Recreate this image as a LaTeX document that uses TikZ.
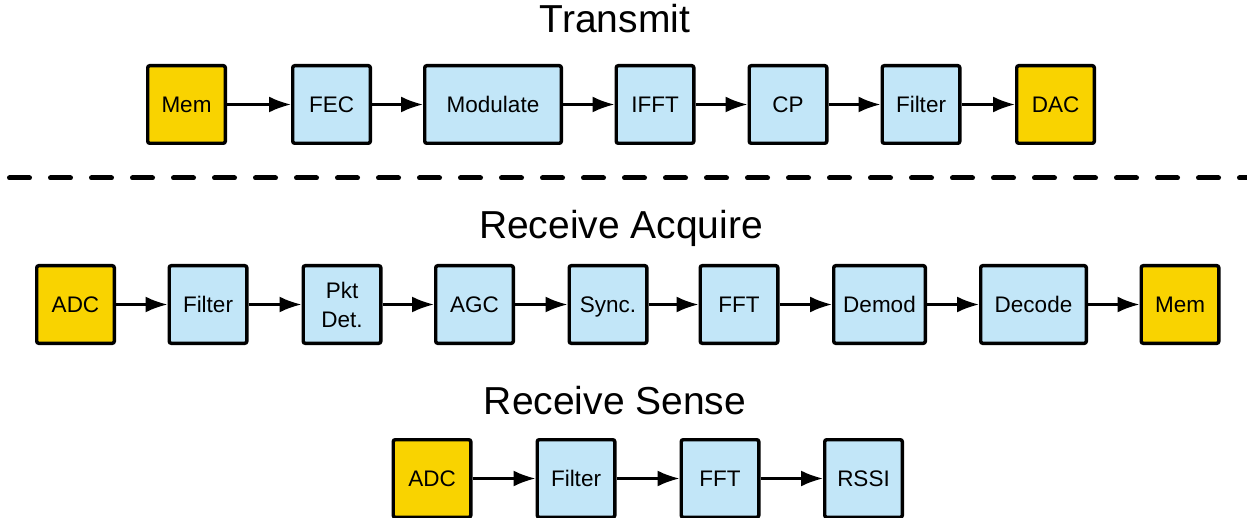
\documentclass[tikz,border=0pt]{standalone}
\usepackage{fontspec}
\setmainfont{Liberation Sans}
\usetikzlibrary{arrows.meta}
\definecolor{memyellow}{RGB}{249,211,0}
\definecolor{dspblue}{RGB}{194,230,248}
\tikzset{
  blk/.style={draw, line width=1.7pt, rounded corners=1pt, minimum width=38.8pt, minimum height=38.8pt, inner sep=2pt, text depth=0pt, align=center, font=\fontsize{11.25}{14.5}\selectfont},
  dsp/.style={blk, fill=dspblue},
  io/.style={blk, fill=memyellow},
  title/.style={anchor=base, font=\fontsize{19.5}{23}\selectfont},
}
\begin{document}
\begin{tikzpicture}[x=0.5pt, y=-0.5pt, >={Latex[length=11pt,width=8pt]}, line width=1.3pt]
\useasboundingbox (0,0) rectangle (1247,518);
\node[title] (txtitle) at (615,33) {Transmit};
\node[io] (txmem) at (186.5,104.5) {Mem};
\node[dsp] (fec) at (331.5,104.5) {FEC};
\node[dsp, minimum width=68.3pt] (modulate) at (493,104.5) {Modulate};
\node[dsp] (ifft) at (655,104.5) {IFFT};
\node[dsp] (cp) at (788,104.5) {CP};
\node[dsp] (txfilter) at (921,104.5) {Filter};
\node[io] (dac) at (1055.5,104.5) {DAC};
\draw[->](txmem)--(fec);
\draw[->](fec)--(modulate);
\draw[->](modulate)--(ifft);
\draw[->](ifft)--(cp);
\draw[->](cp)--(txfilter);
\draw[->](txfilter)--(dac);
\draw[line width=2.5pt, line cap=round, dash pattern=on 10pt off 10.5pt](9.5,178)--(1247,178);
\node[title] (acqtitle) at (621,239) {Receive Acquire};
\node[io] (acqadc) at (75.5,304.5) {ADC};
\node[dsp] (acqfilter) at (208,304.5) {Filter};
\node[dsp] (pktdet) at (342,304.5) {Pkt\\Det.};
\node[dsp] (agc) at (474.5,304.5) {AGC};
\node[dsp] (sync) at (608,304.5) {Sync.};
\node[dsp] (acqfft) at (739,304.5) {FFT};
\node[dsp, minimum width=45.8pt] (demod) at (879.5,304.5) {Demod};
\node[dsp, minimum width=52.8pt] (decode) at (1033.5,304.5) {Decode};
\node[io] (acqmem) at (1180,304.5) {Mem};
\draw[->](acqadc)--(acqfilter);
\draw[->](acqfilter)--(pktdet);
\draw[->](pktdet)--(agc);
\draw[->](agc)--(sync);
\draw[->](sync)--(acqfft);
\draw[->](acqfft)--(demod);
\draw[->](demod)--(decode);
\draw[->](decode)--(acqmem);
\node[title] (sensetitle) at (615,414) {Receive Sense};
\node[io] (senseadc) at (432,478.5) {ADC};
\node[dsp] (sensefilter) at (576,478.5) {Filter};
\node[dsp] (sensefft) at (720,478.5) {FFT};
\node[dsp] (rssi) at (863.5,478.5) {RSSI};
\draw[->](senseadc)--(sensefilter);
\draw[->](sensefilter)--(sensefft);
\draw[->](sensefft)--(rssi);
\end{tikzpicture}
\end{document}
